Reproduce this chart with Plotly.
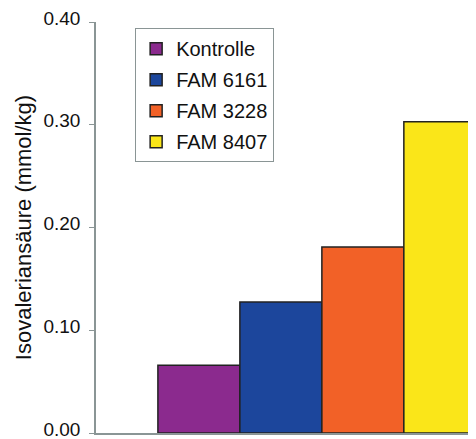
import plotly.graph_objects as go

series_names = ["Kontrolle", "FAM 6161", "FAM 3228", "FAM 8407"]
series_values = [0.066, 0.1275, 0.181, 0.303]
series_colors = ["#8B2A8E", "#1C469C", "#F26127", "#FAE619"]
y_ticks = [0.0, 0.1, 0.2, 0.3, 0.4]

fig = go.Figure()
for name, val, col in zip(series_names, series_values, series_colors):
    fig.add_trace(go.Bar(
        x=[0], y=[val], name=name, legendgroup=name,
        marker=dict(color=col, line=dict(color="#222222", width=1.5)),
    ))

axis_col = "#8A9595"
fig.update_layout(
    width=468, height=431,
    margin=dict(l=88, r=0, t=14, b=6, autoexpand=False),
    paper_bgcolor="white", plot_bgcolor="white",
    barmode="group", bargap=0.2, bargroupgap=0,
    font=dict(family="Liberation Sans, Arial, sans-serif", size=19, color="#111111"),
    showlegend=True,
    legend=dict(
        x=0.103, y=0.985, xanchor="left", yanchor="top",
        bgcolor="white", bordercolor="#8A9595", borderwidth=1,
        font=dict(size=20), tracegroupgap=2,
    ),
    xaxis=dict(
        range=[-0.551, 0.376], showticklabels=False, ticks="",
        showline=True, linecolor=axis_col, linewidth=1.5,
        showgrid=False, zeroline=False, automargin=False,
    ),
    yaxis=dict(
        range=[0, 0.40], tickvals=y_ticks, tickformat=".2f",
        ticks="outside", ticklen=5, tickcolor=axis_col, tickwidth=1,
        showline=True, linecolor=axis_col, linewidth=1.5,
        showgrid=False, zeroline=False, ticklabelstandoff=5,
        ticklabelshift=-4, ticklabeloverflow="allow", automargin=False,
        title=dict(text="Isovaleriansäure (mmol/kg)", font=dict(size=22), standoff=6),
    ),
)

fig.write_html("out.html")
